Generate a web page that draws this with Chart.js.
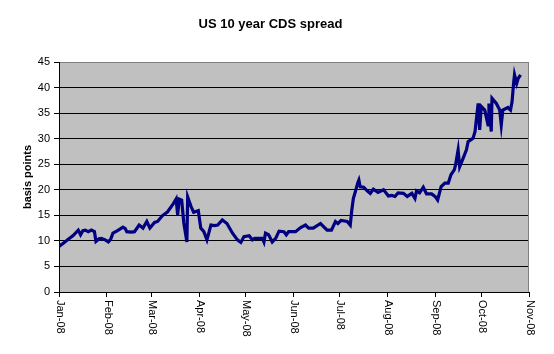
<!DOCTYPE html>
<html>
<head>
<meta charset="utf-8">
<title>US 10 year CDS spread</title>
<script src="https://cdn.jsdelivr.net/npm/chart.js@4"></script>
<style>
  body { margin: 0; background: #fff; }
  canvas { display: block; }
</style>
</head>
<body>
<canvas id="cds-chart" width="554" height="354"></canvas>
<script>
// days since 1 Jan 2008
const days = [0, 3, 6, 9, 12.5, 14, 15.5, 17, 19, 21, 23, 24, 26, 27.5, 30, 32, 33.5, 35, 38, 41.5,
  43, 44, 47, 49, 52, 54.5, 57, 59, 62, 64, 67, 70.5, 74, 76, 77, 78, 79.6, 81, 83, 83.5,
  85.7, 87.4, 90.4, 92, 94, 96, 98.6, 101, 103, 106, 109, 112.6, 115.8, 118, 120, 123.4, 125.5, 127, 132, 133,
  134, 136, 138.4, 140.6, 142.8, 146, 147.5, 149, 153.5, 156.8, 160, 162, 165, 169.7, 174, 176.8, 179.4, 181, 183, 187,
  189, 190, 191, 192.3, 193.8, 194.6, 195.5, 197.7, 200, 202, 204, 207, 210.6, 213.8, 216, 218, 220, 223.5, 226, 229,
  231, 232, 234, 236.4, 238.5, 241.8, 244, 245.7, 248, 250.4, 252.6, 254.3, 256.5, 257.3, 259, 260, 262.3, 264.4, 265.5, 268.7,
  270, 272, 273, 274, 276.3, 278.4, 279, 280.5, 281, 283.8, 286, 287, 288, 291.3, 293, 294, 295, 295.6, 297, 298, 299.5];

// basis points
const spread = [8.9, 9.6, 10.3, 11.0, 12.1, 11.2, 12.0, 12.1, 11.8, 12.1, 11.8, 9.9, 10.4, 10.5, 10.2, 9.8, 10.3, 11.5, 12.0, 12.7,
  12.4, 11.8, 11.7, 11.8, 13.1, 12.5, 13.8, 12.5, 13.6, 13.8, 14.9, 15.7, 17.2, 18.2, 15.1, 18.2, 18.0, 13.5, 9.8, 18.6,
  16.7, 15.6, 15.9, 12.5, 11.8, 10.2, 13.1, 13.0, 13.1, 14.1, 13.4, 11.5, 10.2, 9.7, 10.8, 11.0, 10.2, 10.5, 10.5, 9.8,
  11.5, 11.2, 9.8, 10.5, 11.9, 11.8, 11.2, 11.8, 11.8, 12.6, 13.1, 12.5, 12.5, 13.4, 12.1, 12.1, 13.8, 13.4, 14.0, 13.8,
  13.1, 16.0, 18.3, 19.6, 21.3, 21.9, 20.6, 20.5, 19.8, 19.3, 20.1, 19.5, 20.0, 18.8, 18.9, 18.7, 19.4, 19.3, 18.7, 19.3,
  18.3, 19.8, 19.4, 20.5, 19.2, 19.2, 18.7, 18.0, 20.6, 21.3, 21.3, 22.9, 23.9, 24.8, 27.8, 24.5, 26.2, 27.8, 29.4, 30.1,
  31.4, 36.9, 31.7, 36.3, 35.6, 32.7, 36.9, 31.4, 37.9, 36.9, 35.6, 32.7, 35.6, 36.1, 35.6, 37.2, 40.8, 42.5, 40.8, 41.8, 42.5];

const monthDays = [0, 31, 60, 91, 121, 152, 182, 213, 244, 274, 305];
const monthLabels = ['Jan-08', 'Feb-08', 'Mar-08', 'Apr-08', 'May-08', 'Jun-08',
  'Jul-08', 'Aug-08', 'Sep-08', 'Oct-08', 'Nov-08'];

const FONT = '"Liberation Sans", Arial, sans-serif';

// grey plot area, white page, grey right border
const plotBackground = {
  id: 'plotBackground',
  beforeDraw(chart) {
    const { ctx, chartArea: a } = chart;
    ctx.save();
    ctx.fillStyle = '#ffffff';
    ctx.fillRect(0, 0, chart.width, chart.height);
    ctx.fillStyle = '#c0c0c0';
    ctx.fillRect(a.left, a.top, a.right - a.left, a.bottom - a.top);
    ctx.restore();
  },
  afterDraw(chart) {
    const { ctx, chartArea: a } = chart;
    ctx.save();
    ctx.strokeStyle = '#808080';
    ctx.lineWidth = 1;
    ctx.beginPath();
    ctx.moveTo(Math.round(a.right) - 0.5, a.top);
    ctx.lineTo(Math.round(a.right) - 0.5, a.bottom);
    ctx.stroke();
    ctx.restore();
  }
};

// month labels written top to bottom, like Excel
const monthTickLabels = {
  id: 'monthTickLabels',
  afterDraw(chart) {
    const { ctx } = chart;
    const xs = chart.scales.x;
    ctx.save();
    ctx.fillStyle = '#000';
    ctx.font = '11px ' + FONT;
    ctx.textAlign = 'left';
    ctx.textBaseline = 'middle';
    monthDays.forEach((d, i) => {
      const x = xs.getPixelForValue(d);
      ctx.save();
      ctx.translate(x + 1, xs.top + 8);
      ctx.rotate(Math.PI / 2);
      ctx.fillText(monthLabels[i], 0, 0);
      ctx.restore();
    });
    ctx.restore();
  }
};

new Chart(document.getElementById('cds-chart'), {
  type: 'line',
  data: {
    datasets: [{
      label: 'US 10 year CDS spread',
      data: days.map((d, i) => ({ x: d, y: spread[i] })),
      borderColor: '#000080',
      borderWidth: 3.2,
      pointRadius: 0,
      tension: 0,
      fill: false
    }]
  },
  options: {
    responsive: false,
    animation: false,
    layout: { padding: { left: 12, right: 25, top: 0, bottom: 0 } },
    plugins: {
      legend: { display: false },
      tooltip: { enabled: false },
      title: {
        display: true,
        text: 'US 10 year CDS spread',
        color: '#000',
        font: { family: FONT, size: 13, weight: 'bold' },
        padding: { top: 17, bottom: 29.4 }
      }
    },
    scales: {
      x: {
        type: 'linear',
        min: 0,
        max: 305,
        afterBuildTicks: (scale) => { scale.ticks = monthDays.map(v => ({ value: v })); },
        afterFit: (scale) => { scale.height = 62; },
        ticks: { display: false },
        grid: { drawOnChartArea: false, drawTicks: true, tickLength: 5, tickColor: '#000' },
        border: { color: '#000', width: 1 }
      },
      y: {
        min: 0,
        max: 45,
        afterFit: (scale) => { scale.width = 47; },
        ticks: { stepSize: 5, color: '#000', padding: 4, font: { family: FONT, size: 11 } },
        grid: {
          color: (c) => (c.tick && c.tick.value === 45 ? '#808080' : '#000'),
          tickColor: '#000',
          tickLength: 5,
          lineWidth: 1
        },
        border: { color: '#000', width: 1 },
        title: {
          display: true,
          text: 'basis points',
          color: '#000',
          font: { family: FONT, size: 11, weight: 'bold' },
          padding: { top: 9, bottom: 0 }
        }
      }
    }
  },
  plugins: [plotBackground, monthTickLabels]
});
</script>
</body>
</html>
